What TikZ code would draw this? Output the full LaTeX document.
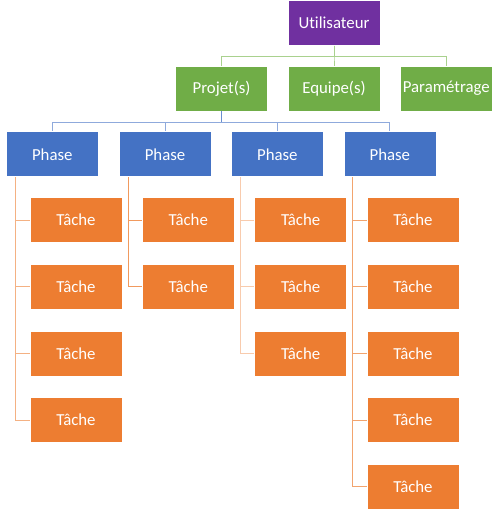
\documentclass[tikz,border=0pt]{standalone}
\usepackage{fontspec}
\setmainfont[Ligatures={NoCommon}]{Carlito}
\definecolor{cpurple}{HTML}{7030A0}
\definecolor{cgreen}{HTML}{70AD47}
\definecolor{cblue}{HTML}{4472C4}
\definecolor{corange}{HTML}{ED7D31}
\definecolor{lgreen}{HTML}{A9D18E}
\definecolor{lblue}{HTML}{8FAADC}
\definecolor{lorange1}{HTML}{F4B183}
\definecolor{lorange2}{HTML}{F19A5E}
\definecolor{lorange3}{HTML}{F8CBAD}
\definecolor{lorange4}{HTML}{F2A46E}
\tikzset{
  box/.style={draw=white, line width=0.6pt, minimum width=92pt, minimum height=45pt,
    inner sep=0pt, text=white, font=\fontsize{16.8}{19}\selectfont, anchor=north west},
  purplebox/.style={box, fill=cpurple},
  greenbox/.style={box, fill=cgreen},
  bluebox/.style={box, fill=cblue},
  orangebox/.style={box, fill=corange},
  conn/.style={line width=1pt},
}
\begin{document}
\begin{tikzpicture}[x=1pt,y=-1pt]
\useasboundingbox (0,0) rectangle (500,510);
% boxes
\node[purplebox] (u) at (287.7,0) {Utilisateur};
\node[greenbox] (p) at (175.3,65.7) {Projet(s)};
\node[greenbox] (e) at (287.7,65.7) {Equipe(s)};
\node[greenbox] (r) at (400,65.7) {Paramétrage};
\node[bluebox] (ph1) at (6,131.5) {Phase};
\node[bluebox] (ph2) at (118.7,131.5) {Phase};
\node[bluebox] (ph3) at (231,131.5) {Phase};
\node[bluebox] (ph4) at (343.5,131.5) {Phase};
% tasks
\foreach \i/\y in {1/197.3,2/264,3/330.7,4/397.3}
  \node[orangebox] (t1\i) at (29.7,\y) {Tâche};
\foreach \i/\y in {1/197.3,2/264}
  \node[orangebox] (t2\i) at (142,\y) {Tâche};
\foreach \i/\y in {1/197.3,2/264,3/330.7}
  \node[orangebox] (t3\i) at (254.3,\y) {Tâche};
\foreach \i/\y in {1/197.3,2/264,3/330.7,4/397.3,5/464}
  \node[orangebox] (t4\i) at (366.7,\y) {Tâche};
% level 1 connectors
\foreach \n in {p,e,r}
  \draw[conn, lgreen] (u.south) -- ++(0,11) -| (\n.north);
% level 2 connectors
\foreach \n in {ph1,ph2,ph3,ph4}
  \draw[conn, lblue] (p.south) -- ++(0,11) -| (\n.north);
\draw[conn, cblue!80] (p.south) -- ++(0,11);
% level 3 connectors
\foreach \j/\n/\c in {1/4/lorange1, 2/2/lorange2, 3/3/lorange3, 4/5/lorange4}{
  \foreach \k in {1,...,\n}
    \draw[conn, \c] ([xshift=9.3pt]ph\j.south west) |- (t\j\k.west);
}
\end{tikzpicture}
\end{document}
